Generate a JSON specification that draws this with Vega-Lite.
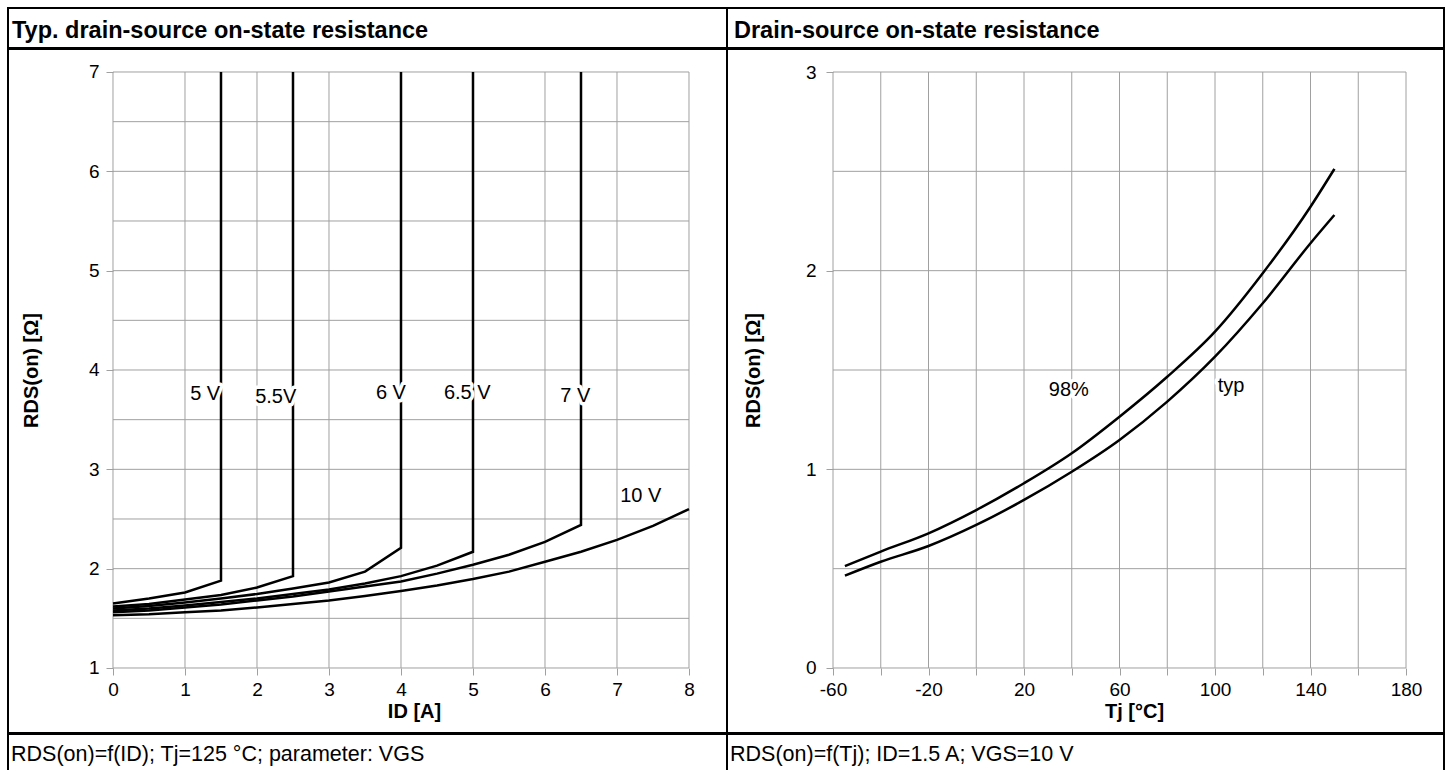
{
  "$schema": "https://vega.github.io/schema/vega-lite/v6.json",
  "padding": {"left": 7, "top": 7, "right": 6, "bottom": -3},
  "spacing": -2,
  "config": {
    "font": "Liberation Sans",
    "view": {"stroke": "black", "strokeWidth": 2},
    "concat": {"spacing": 0},
    "axis": {
      "grid": false, "domain": false, "tickColor": "#a0a0a0", "tickWidth": 1, "tickSize": 7,
      "labelFont": "Liberation Sans", "labelFontSize": 19, "labelColor": "black", "labelPadding": 7,
      "labelFlush": false, "labelOverlap": false,
      "titleFont": "Liberation Sans", "titleFontSize": 20, "titleFontWeight": "bold", "titleColor": "black"
    },
    "axisX": {"labelPadding": 5},
    "title": {"font": "Liberation Sans", "fontSize": 23.5, "fontWeight": "bold", "color": "black", "anchor": "start", "frame": "group", "baseline": "alphabetic", "offset": -34}
  },
  "vconcat": [
    {
      "bounds": "flush", "spacing": 0,
      "hconcat": [
        {"width": 719, "height": 40, "data": {"values": [{"t": ""}]}, "mark": "text",
         "view": {"stroke": "black", "strokeWidth": 2},
         "encoding": {"text": {"field": "t"}},
         "title": {"text": "Typ. drain-source on-state resistance", "dx": 4}},
        {"width": 717, "height": 40, "data": {"values": [{"t": ""}]}, "mark": "text",
         "view": {"stroke": "black", "strokeWidth": 2},
         "encoding": {"text": {"field": "t"}},
         "title": {"text": "Drain-source on-state resistance", "dx": 7}}
      ]
    },
    {
      "bounds": "flush", "spacing": 0,
      "hconcat": [
        {
          "width": 719, "height": 684,
          "encoding": {
            "x": {"field": "x", "type": "quantitative",
                  "scale": {"domain": [-1.4583, 8.5278], "nice": false, "zero": false},
                  "axis": {"values": [0,1,2,3,4,5,6,7,8], "offset": -65, "title": "ID [A]",
                           "titleX": 406, "titleY": 49, "titleBaseline": "alphabetic", "titleAlign": "center"}},
            "y": {"field": "y", "type": "quantitative",
                  "scale": {"domain": [0.3456, 7.2315], "nice": false, "zero": false},
                  "axis": {"values": [1,2,3,4,5,6,7], "offset": -105, "title": "RDS(on) [Ω]",
                           "titleX": -72, "titleY": 321, "titleBaseline": "bottom", "titleAlign": "center", "titleAngle": 270}}
          },
          "layer": [
            {
              "data": {"values": [
                {"x":0,"x2":0,"y":1,"y2":7},{"x":1,"x2":1,"y":1,"y2":7},{"x":2,"x2":2,"y":1,"y2":7},
                {"x":3,"x2":3,"y":1,"y2":7},{"x":4,"x2":4,"y":1,"y2":7},{"x":5,"x2":5,"y":1,"y2":7},
                {"x":6,"x2":6,"y":1,"y2":7},{"x":7,"x2":7,"y":1,"y2":7},{"x":8,"x2":8,"y":1,"y2":7},
                {"x":0,"x2":8,"y":1,"y2":1},{"x":0,"x2":8,"y":1.5,"y2":1.5},{"x":0,"x2":8,"y":2,"y2":2},
                {"x":0,"x2":8,"y":2.5,"y2":2.5},{"x":0,"x2":8,"y":3,"y2":3},{"x":0,"x2":8,"y":3.5,"y2":3.5},
                {"x":0,"x2":8,"y":4,"y2":4},{"x":0,"x2":8,"y":4.5,"y2":4.5},{"x":0,"x2":8,"y":5,"y2":5},
                {"x":0,"x2":8,"y":5.5,"y2":5.5},{"x":0,"x2":8,"y":6,"y2":6},{"x":0,"x2":8,"y":6.5,"y2":6.5},
                {"x":0,"x2":8,"y":7,"y2":7}
              ]},
              "mark": {"type": "rule", "color": "#a0a0a0", "strokeWidth": 1},
              "encoding": {"x2": {"field": "x2"}, "y2": {"field": "y2"}}
            },
            {
              "data": {"values": [
                {"s":"5V","x":0,"y":1.65},{"s":"5V","x":0.5,"y":1.70},{"s":"5V","x":1,"y":1.76},{"s":"5V","x":1.5,"y":1.88},{"s":"5V","x":1.5,"y":7},
                {"s":"5.5V","x":0,"y":1.62},{"s":"5.5V","x":0.5,"y":1.645},{"s":"5.5V","x":1,"y":1.69},{"s":"5.5V","x":1.5,"y":1.735},{"s":"5.5V","x":2,"y":1.81},{"s":"5.5V","x":2.5,"y":1.925},{"s":"5.5V","x":2.5,"y":7},
                {"s":"6V","x":0,"y":1.60},{"s":"6V","x":0.5,"y":1.625},{"s":"6V","x":1,"y":1.66},{"s":"6V","x":1.5,"y":1.70},{"s":"6V","x":2,"y":1.745},{"s":"6V","x":2.5,"y":1.80},{"s":"6V","x":3,"y":1.86},{"s":"6V","x":3.5,"y":1.97},{"s":"6V","x":4,"y":2.21},{"s":"6V","x":4,"y":7},
                {"s":"6.5V","x":0,"y":1.58},{"s":"6.5V","x":0.5,"y":1.60},{"s":"6.5V","x":1,"y":1.63},{"s":"6.5V","x":1.5,"y":1.665},{"s":"6.5V","x":2,"y":1.70},{"s":"6.5V","x":2.5,"y":1.745},{"s":"6.5V","x":3,"y":1.79},{"s":"6.5V","x":3.5,"y":1.85},{"s":"6.5V","x":4,"y":1.925},{"s":"6.5V","x":4.5,"y":2.03},{"s":"6.5V","x":5,"y":2.17},{"s":"6.5V","x":5,"y":7},
                {"s":"7V","x":0,"y":1.56},{"s":"7V","x":0.5,"y":1.58},{"s":"7V","x":1,"y":1.61},{"s":"7V","x":1.5,"y":1.64},{"s":"7V","x":2,"y":1.68},{"s":"7V","x":2.5,"y":1.72},{"s":"7V","x":3,"y":1.77},{"s":"7V","x":3.5,"y":1.82},{"s":"7V","x":4,"y":1.87},{"s":"7V","x":4.5,"y":1.95},{"s":"7V","x":5,"y":2.04},{"s":"7V","x":5.5,"y":2.14},{"s":"7V","x":6,"y":2.27},{"s":"7V","x":6.5,"y":2.44},{"s":"7V","x":6.5,"y":7},
                {"s":"10V","x":0,"y":1.53},{"s":"10V","x":0.5,"y":1.54},{"s":"10V","x":1,"y":1.56},{"s":"10V","x":1.5,"y":1.58},{"s":"10V","x":2,"y":1.61},{"s":"10V","x":2.5,"y":1.645},{"s":"10V","x":3,"y":1.68},{"s":"10V","x":3.5,"y":1.725},{"s":"10V","x":4,"y":1.775},{"s":"10V","x":4.5,"y":1.83},{"s":"10V","x":5,"y":1.895},{"s":"10V","x":5.5,"y":1.97},{"s":"10V","x":6,"y":2.07},{"s":"10V","x":6.5,"y":2.17},{"s":"10V","x":7,"y":2.29},{"s":"10V","x":7.5,"y":2.43},{"s":"10V","x":8,"y":2.60}
              ]},
              "mark": {"type": "line", "color": "black", "strokeWidth": 2.5},
              "encoding": {"detail": {"field": "s"}, "order": {"value": null}}
            },
            {
              "data": {"name": "labL", "values": [
                {"label":"5 V","x":1.28,"y":3.76},{"label":"5.5V","x":2.26,"y":3.73},{"label":"6 V","x":3.86,"y":3.77},
                {"label":"6.5 V","x":4.92,"y":3.77},{"label":"7 V","x":6.42,"y":3.74},{"label":"10 V","x":7.33,"y":2.73}
              ]},
              "mark": {"type": "text", "fontSize": 20, "color": "white", "stroke": "white", "strokeWidth": 7, "strokeJoin": "round", "align": "center", "baseline": "middle"},
              "encoding": {"text": {"field": "label"}}
            },
            {
              "data": {"name": "labL"},
              "mark": {"type": "text", "fontSize": 20, "color": "black", "align": "center", "baseline": "middle"},
              "encoding": {"text": {"field": "label"}}
            }
          ]
        },
        {
          "width": 717, "height": 684,
          "encoding": {
            "x": {"field": "x", "type": "quantitative",
                  "scale": {"domain": [-104.398, 195.916], "nice": false, "zero": false},
                  "axis": {"values": [-60,-40,-20,0,20,40,60,80,100,120,140,160,180], "offset": -65, "title": "Tj [°C]",
                           "labelExpr": "(datum.value + 60) % 40 == 0 ? '' + datum.value : ''",
                           "titleX": 407, "titleY": 49, "titleBaseline": "alphabetic", "titleAlign": "center"}},
            "y": {"field": "y", "type": "quantitative",
                  "scale": {"domain": [-0.3272, 3.1158], "nice": false, "zero": false},
                  "axis": {"values": [0,1,2,3], "offset": -106, "title": "RDS(on) [Ω]", "labelPadding": 10,
                           "titleX": -70, "titleY": 321, "titleBaseline": "bottom", "titleAlign": "center", "titleAngle": 270}}
          },
          "layer": [
            {
              "data": {"values": [
                {"x":-60,"x2":-60,"y":0,"y2":3},{"x":-40,"x2":-40,"y":0,"y2":3},{"x":-20,"x2":-20,"y":0,"y2":3},
                {"x":0,"x2":0,"y":0,"y2":3},{"x":20,"x2":20,"y":0,"y2":3},{"x":40,"x2":40,"y":0,"y2":3},
                {"x":60,"x2":60,"y":0,"y2":3},{"x":80,"x2":80,"y":0,"y2":3},{"x":100,"x2":100,"y":0,"y2":3},
                {"x":120,"x2":120,"y":0,"y2":3},{"x":140,"x2":140,"y":0,"y2":3},{"x":160,"x2":160,"y":0,"y2":3},
                {"x":180,"x2":180,"y":0,"y2":3},
                {"x":-60,"x2":180,"y":0,"y2":0},{"x":-60,"x2":180,"y":0.5,"y2":0.5},{"x":-60,"x2":180,"y":1,"y2":1},
                {"x":-60,"x2":180,"y":1.5,"y2":1.5},{"x":-60,"x2":180,"y":2,"y2":2},{"x":-60,"x2":180,"y":2.5,"y2":2.5},
                {"x":-60,"x2":180,"y":3,"y2":3}
              ]},
              "mark": {"type": "rule", "color": "#a0a0a0", "strokeWidth": 1},
              "encoding": {"x2": {"field": "x2"}, "y2": {"field": "y2"}}
            },
            {
              "data": {"values": [
                {"s":"98%","x":-55,"y":0.513},{"s":"98%","x":-40,"y":0.586},{"s":"98%","x":-20,"y":0.678},{"s":"98%","x":0,"y":0.795},
                {"s":"98%","x":20,"y":0.930},{"s":"98%","x":40,"y":1.081},{"s":"98%","x":60,"y":1.265},{"s":"98%","x":80,"y":1.466},
                {"s":"98%","x":100,"y":1.693},{"s":"98%","x":120,"y":1.987},{"s":"98%","x":140,"y":2.322},{"s":"98%","x":150,"y":2.512},
                {"s":"typ","x":-55,"y":0.465},{"s":"typ","x":-40,"y":0.535},{"s":"typ","x":-20,"y":0.614},{"s":"typ","x":0,"y":0.720},
                {"s":"typ","x":20,"y":0.846},{"s":"typ","x":40,"y":0.988},{"s":"typ","x":60,"y":1.148},{"s":"typ","x":80,"y":1.341},
                {"s":"typ","x":100,"y":1.567},{"s":"typ","x":120,"y":1.836},{"s":"typ","x":140,"y":2.138},{"s":"typ","x":150,"y":2.280}
              ]},
              "mark": {"type": "line", "color": "black", "strokeWidth": 2.5, "interpolate": "monotone"},
              "encoding": {"detail": {"field": "s"}}
            },
            {
              "data": {"name": "labR", "values": [
                {"label":"98%","x":38.8,"y":1.40},{"label":"typ","x":106.7,"y":1.42}
              ]},
              "mark": {"type": "text", "fontSize": 20, "color": "white", "stroke": "white", "strokeWidth": 7, "strokeJoin": "round", "align": "center", "baseline": "middle"},
              "encoding": {"text": {"field": "label"}}
            },
            {
              "data": {"name": "labR"},
              "mark": {"type": "text", "fontSize": 20, "color": "black", "align": "center", "baseline": "middle"},
              "encoding": {"text": {"field": "label"}}
            }
          ]
        }
      ]
    },
    {
      "bounds": "flush", "spacing": 0,
      "hconcat": [
        {"width": 719, "height": 40, "data": {"values": [{"t": ""}]}, "mark": "text",
         "view": {"stroke": "black", "strokeWidth": 2},
         "encoding": {"text": {"field": "t"}},
         "title": {"text": "RDS(on)=f(ID); Tj=125 °C; parameter: VGS", "dx": 3, "fontSize": 21.5, "fontWeight": "normal", "offset": -31}},
        {"width": 717, "height": 40, "data": {"values": [{"t": ""}]}, "mark": "text",
         "view": {"stroke": "black", "strokeWidth": 2},
         "encoding": {"text": {"field": "t"}},
         "title": {"text": "RDS(on)=f(Tj); ID=1.5 A; VGS=10 V", "dx": 3, "fontSize": 21.5, "fontWeight": "normal", "offset": -31}}
      ]
    }
  ]
}
